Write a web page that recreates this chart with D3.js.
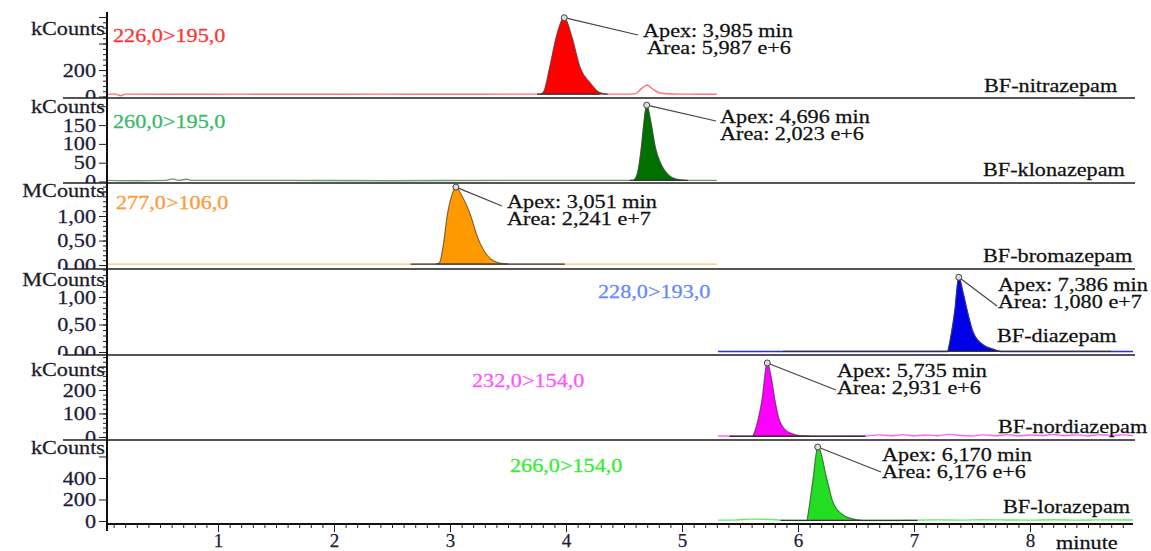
<!DOCTYPE html>
<html>
<head>
<meta charset="utf-8">
<script src="https://cdn.jsdelivr.net/npm/d3@7"></script>
<style>
  body { margin: 0; background: #fff; }
  svg text { font-family: "Liberation Serif", "Times New Roman", serif; font-size: 19px; }
</style>
</head>
<body>
<div id="chart"></div>
<script>
// ---- data ----
const compounds = ["BF-nitrazepam", "BF-klonazepam", "BF-bromazepam", "BF-diazepam", "BF-nordiazepam", "BF-lorazepam"];
const transitions = ["226,0>195,0", "260,0>195,0", "277,0>106,0", "228,0>193,0", "232,0>154,0", "266,0>154,0"];
const units = ["kCounts", "kCounts", "MCounts", "MCounts", "kCounts", "kCounts"];
const apexLabels = ["3,985", "4,696", "3,051", "7,386", "5,735", "6,170"];
const apexTimes = [3.985, 4.696, 3.051, 7.386, 5.735, 6.17];
const areaLabels = ["5,987 e+6", "2,023 e+6", "2,241 e+7", "1,080 e+7", "2,931 e+6", "6,176 e+6"];

const yDomains = [[-11, 638], [-4, 222], [-0.08, 1.673], [-0.055, 1.51], [-13, 349], [-28, 753]];
const yTicks = [[0, 200, 400, 600], [0, 50, 100, 150, 200], [0, 0.5, 1, 1.5], [0, 0.5, 1], [0, 100, 200, 300], [0, 200, 400, 600]];
const yTickLabels = [["0", "200", "", ""], ["0", "50", "100", "150", ""], ["0,00", "0,50", "1,00", ""], ["0,00", "0,50", "1,00"], ["0", "100", "200", ""], ["0", "200", "400", ""]];
const yMinorStep = [40, 0, 0.1, 0.1, 20, 0];

const xTicks = [1, 2, 3, 4, 5, 6, 7, 8];
const xTickLabels = ["1", "2", "3", "4", "5", "6", "7", "8"];

// traces: time (min) / intensity (k or M counts)
const nitraT = [0.043, 0.12, 0.16, 0.2, 0.6, 1.2, 1.8, 2.4, 3.0, 3.5, 3.78, 3.81, 3.86, 3.92, 3.985, 4.05, 4.12, 4.21, 4.29, 4.36, 4.5, 4.6, 4.65, 4.7, 4.75, 4.82, 4.92, 5.05, 5.2, 5.3];
const nitraV = [18, 18, 6, 18, 17, 18, 17, 18, 17, 18, 18, 40, 220, 460, 595, 450, 222, 100, 30, 18, 18, 22, 60, 87, 55, 25, 19, 18, 17, 17];

const klonaT = [0.043, 0.3, 0.55, 0.61, 0.66, 0.73, 0.78, 1.5, 2.5, 3.5, 4.3, 4.58, 4.61, 4.65, 4.67, 4.696, 4.73, 4.77, 4.82, 4.88, 4.95, 5.02, 5.3];
const klonaV = [3, 2, 3, 7, 3, 6, 3, 3, 2, 3, 3, 3, 15, 90, 150, 203, 160, 90, 45, 18, 6, 3, 3];

const bromaT = [0.043, 0.8, 1.6, 2.4, 2.88, 2.91, 2.94, 2.98, 3.02, 3.051, 3.1, 3.17, 3.24, 3.32, 3.43, 3.5, 4.0, 4.6, 5.3];
const bromaV = [0.02, 0.02, 0.02, 0.02, 0.02, 0.05, 0.37, 1.06, 1.45, 1.59, 1.42, 1.06, 0.55, 0.2, 0.04, 0.02, 0.02, 0.02, 0.02];

const diazT = [5.31, 5.6, 5.87, 6.5, 7.0, 7.29, 7.32, 7.353, 7.386, 7.42, 7.457, 7.509, 7.595, 7.681, 7.75, 8.2, 8.6, 8.888];
const diazV = [0.01, 0.01, 0.01, 0.01, 0.01, 0.01, 0.3, 0.76, 1.36, 1.1, 0.76, 0.36, 0.13, 0.05, 0.01, 0.01, 0.01, 0.01];

const nordT = [5.31, 5.41, 5.5, 5.61, 5.65, 5.69, 5.735, 5.77, 5.8, 5.845, 5.93, 6.04, 6.1, 6.3, 6.58, 6.7, 6.8, 6.9, 7.0, 7.1, 7.2, 7.3, 7.4, 7.5, 7.6, 7.7, 7.8, 7.9, 8.0, 8.1, 8.2, 8.3, 8.4, 8.5, 8.6, 8.7, 8.8, 8.888];
const nordV = [4, 4, 3, 3, 60, 157, 315, 250, 157, 64, 17, 4, 3, 3, 4, 9, 5, 10, 4, 8, 5, 11, 6, 4, 9, 5, 10, 4, 8, 6, 11, 5, 9, 4, 10, 6, 9, 5];

const loraT = [5.31, 5.45, 5.52, 5.6, 5.78, 5.84, 6.0, 6.078, 6.1, 6.129, 6.172, 6.25, 6.3, 6.388, 6.474, 6.55, 6.8, 7.03, 7.2, 7.4, 7.6, 7.8, 8.0, 8.2, 8.4, 8.6, 8.888];
const loraV = [8, 8, 14, 17, 14, 8, 5, 5, 150, 381, 688, 381, 177, 56, 19, 5, 5, 8, 10, 8, 12, 9, 8, 11, 8, 10, 9];

const peakWindows = [[3.78, 4.36], [4.58, 5.02], [2.88, 3.5], [7.29, 7.75], [5.61, 6.1], [6.078, 6.55]];
const intBaselines = [[3.75, 4.29, 18], [4.55, 5.05, 3], [2.66, 3.99, 0.02], [5.87, 8.7, 0.01], [5.41, 6.58, 3], [5.85, 7.03, 5]];

const traceT = [nitraT, klonaT, bromaT, diazT, nordT, loraT];
const traceV = [nitraV, klonaV, bromaV, diazV, nordV, loraV];

// ---- styles / layout ----
const traceColors = ["#ff7070", "#6a9a6a", "#ffbf80", "#2a2aff", "#ff66ff", "#66ee66"];
const fillColors = ["#ff0000", "#007000", "#ff9900", "#0000e8", "#ff00ff", "#22dd22"];
const labelColors = ["#ff3333", "#33bb66", "#ff9933", "#6688ff", "#ff55ff", "#33ee33"];

const panelTop = [12, 98, 183, 269, 355, 440];
const panelBottom = [98, 183, 269, 355, 440, 524];
const unitY = [35, 113, 197, 286, 376, 454];
const transPos = [[113, 42], [113, 128], [116, 209], [598, 298], [472, 387], [510, 472]];
const namePos = [[984, 92], [983, 176], [983, 262], [997, 342], [998, 433], [1003, 513]];
const annPos = [[643, 37], [720, 123], [507, 208], [998, 291], [837, 377], [882, 461]];
const leaderEnd = [[638, 35], [716, 121], [502, 206], [997, 306], [836, 390], [881, 472]];

const W = 1151, H = 551;
const axisX = 107;
const stretch = 1.17; // the original glyphs are wider than they are tall

const svg = d3.select("#chart").append("svg")
  .attr("width", W).attr("height", H)
  .attr("viewBox", `0 0 ${W} ${H}`);

const x = d3.scaleLinear().domain([0.043, 8.888]).range([axisX, 1133]);

const defs = svg.append("defs");

function label(parent, px, py, str, color, anchor) {
  return parent.append("text")
    .attr("transform", `translate(${px},${py}) scale(${stretch},1)`)
    .attr("text-anchor", anchor || "start")
    .attr("fill", color)
    .attr("stroke", color)
    .attr("stroke-width", 0.25)
    .text(str);
}

compounds.forEach((name, i) => {
  const top = panelTop[i], bottom = panelBottom[i];
  const y = d3.scaleLinear().domain(yDomains[i]).range([bottom, top]);
  const g = svg.append("g").attr("class", "panel");

  defs.append("clipPath").attr("id", "clip" + i)
    .append("rect").attr("x", -axisX - 5).attr("y", top - 12)
    .attr("width", axisX + 5).attr("height", bottom - top + 12 + (i === 5 ? 20 : 0));

  // trace
  const pts = traceT[i].map((t, k) => ({ t: t, v: traceV[i][k] }));
  const [ps, pe] = peakWindows[i];
  const peakPts = pts.filter((d) => d.t >= ps && d.t <= pe);
  const [is, ie, lvl] = intBaselines[i];

  g.append("path")
    .datum(pts)
    .attr("fill", "none")
    .attr("stroke", traceColors[i])
    .attr("stroke-width", 1.4)
    .attr("d", d3.line().x((d) => x(d.t)).y((d) => y(d.v)).curve(d3.curveMonotoneX));

  g.append("path")
    .datum(peakPts)
    .attr("fill", fillColors[i])
    .attr("stroke", "#444")
    .attr("stroke-width", 0.8)
    .attr("d", d3.area().x((d) => x(d.t)).y0(y(lvl)).y1((d) => y(d.v)).curve(d3.curveMonotoneX));

  // integration baseline
  g.append("line")
    .attr("x1", x(is)).attr("x2", x(ie))
    .attr("y1", y(lvl)).attr("y2", y(lvl))
    .attr("stroke", "#333").attr("stroke-width", 1.3);

  // panel floor
  g.append("line")
    .attr("x1", i === 5 ? axisX : 63).attr("x2", i === 5 ? 1133 : 1135)
    .attr("y1", bottom).attr("y2", bottom)
    .attr("stroke", i === 5 ? "#111" : "#555")
    .attr("stroke-width", 2);

  // y axis ticks
  const ax = g.append("g").attr("transform", `translate(${axisX},0)`)
    .attr("clip-path", `url(#clip${i})`);
  if (yMinorStep[i]) {
    const minor = d3.range(0, yDomains[i][1], yMinorStep[i]);
    ax.append("g").call(d3.axisLeft(y).tickValues(minor).tickSize(4).tickFormat(""))
      .call((s) => s.select(".domain").remove())
      .selectAll("line").attr("stroke", "#222");
  }
  ax.append("g")
    .call(d3.axisLeft(y).tickValues(yTicks[i]).tickSize(8).tickPadding(3)
      .tickFormat((d, k) => yTickLabels[i][k]))
    .call((s) => s.select(".domain").remove())
    .call((s) => s.selectAll("line").attr("stroke", "#222"))
    .call((s) => s.selectAll("text")
      .attr("font-family", '"Liberation Serif", serif')
      .attr("font-size", 19)
      .attr("fill", "#1c1c3a")
      .attr("stroke", "#1c1c3a")
      .attr("stroke-width", 0.25)
      .attr("transform", `scale(${stretch},1)`)
      .attr("x", -11 / stretch));

  label(g, 105, unitY[i], units[i], "#1c1c2a", "end");
  label(g, transPos[i][0], transPos[i][1], transitions[i], labelColors[i]);
  label(g, namePos[i][0], namePos[i][1], name, "#111");

  // apex marker + annotation
  const apexV = d3.max(traceV[i]);
  const ax0 = x(apexTimes[i]), ay0 = y(apexV);
  g.append("line")
    .attr("x1", ax0).attr("y1", ay0)
    .attr("x2", leaderEnd[i][0]).attr("y2", leaderEnd[i][1])
    .attr("stroke", "#444").attr("stroke-width", 1.2);
  g.append("circle")
    .attr("cx", ax0).attr("cy", ay0).attr("r", 3)
    .attr("fill", "#ddd").attr("stroke", "#444").attr("stroke-width", 1);

  label(g, annPos[i][0], annPos[i][1], "Apex: " + apexLabels[i] + " min", "#111");
  label(g, annPos[i][0] + (i === 0 ? 4 : 0), annPos[i][1] + 17, "Area: " + areaLabels[i], "#111");
});

// shared y axis line
svg.append("line")
  .attr("x1", axisX).attr("x2", axisX)
  .attr("y1", 12).attr("y2", 531)
  .attr("stroke", "#111").attr("stroke-width", 2);

// x axis
const xg = svg.append("g").attr("transform", `translate(0,${panelBottom[5]})`);
xg.append("g")
  .call(d3.axisBottom(x).tickValues(d3.range(0.1, 8.85, 0.1)).tickSize(4).tickFormat(""))
  .call((s) => s.select(".domain").remove())
  .selectAll("line").attr("stroke", "#222");
xg.append("g")
  .call(d3.axisBottom(x).tickValues(xTicks).tickSize(8).tickPadding(2)
    .tickFormat((d, k) => xTickLabels[k]))
  .call((s) => s.select(".domain").remove())
  .call((s) => s.selectAll("line").attr("stroke", "#222"))
  .call((s) => s.selectAll("text")
    .attr("font-family", '"Liberation Serif", serif')
    .attr("font-size", 19)
    .attr("fill", "#1c1c3a")
    .attr("stroke", "#1c1c3a")
    .attr("stroke-width", 0.25));

label(svg, 1056, 549, "minute", "#111");
</script>
</body>
</html>
